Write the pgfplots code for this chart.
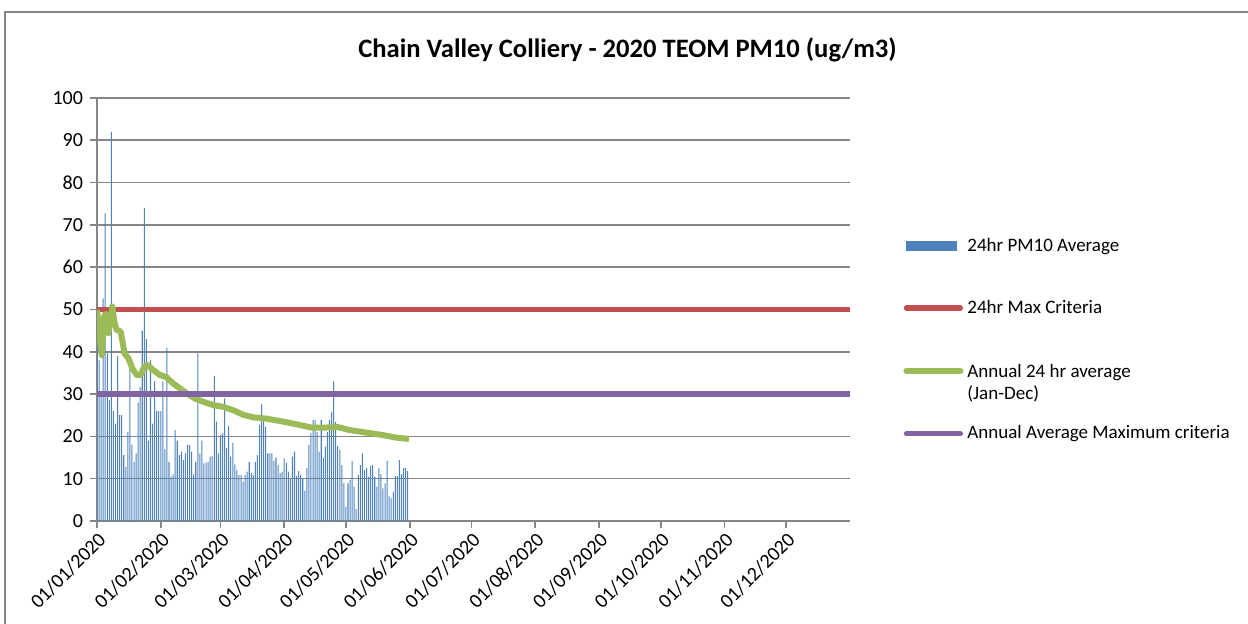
\documentclass[border=0pt]{standalone}
\usepackage{fontspec}
\setmainfont{Carlito}
\usepackage{pgfplots}
\usepackage{pgfplotstable}
\pgfplotsset{compat=1.18}

\definecolor{pmblue}{HTML}{4F81BD}
\definecolor{maxred}{HTML}{C0504D}
\definecolor{avggreen}{HTML}{9BBB59}
\definecolor{annpurple}{HTML}{8064A2}
\definecolor{gridgrey}{HTML}{868686}

\pgfplotsset{
  lineleg/.style={legend image code/.code={\draw[##1, line cap=round] (0pt,0pt) -- (27pt,0pt);}},
  barleg/.style={legend image code/.code={\fill[pmblue] (0pt,-2.6pt) rectangle (25.5pt,2.6pt);}},
}

% daily 24hr PM10 averages, day 0 = 01/01/2020
\pgfplotstableread{
day pm
0 49
1 38
2 30
3 52.6
4 72.7
5 39.6
6 28.6
7 92
8 26
9 23
10 39
11 25
12 25
13 15.6
14 12.8
15 21
16 37
17 18
18 14
19 16
20 28
21 31.7
22 45
23 74
24 43
25 19
26 38
27 23
28 33
29 26
30 26
31 26
32 33
33 17
34 41
35 14
36 10.5
37 11
38 21.5
39 19
40 15.6
41 16.4
42 14.4
43 16
44 18
45 18
46 16.4
47 11
48 14
49 39.6
50 16
51 19
52 13.6
53 13.8
54 14
55 15.2
56 15.4
57 34.3
58 23.5
59 16
60 20.3
61 20.7
62 29
63 17.2
64 22.5
65 15.2
66 18.5
67 13.4
68 12
69 10.9
70 10.9
71 9.3
72 10.9
73 11.7
74 14
75 11.3
76 10.9
77 14
78 15.6
79 22.7
80 27.7
81 23.9
82 22.3
83 16
84 16
85 16
86 14.2
87 15
88 13.2
89 11.3
90 11.7
91 14.8
92 13.8
93 11.7
94 10.1
95 15.2
96 16.4
97 10.6
98 11.8
99 10.9
100 10.1
101 7.2
102 12.5
103 18
104 20.7
105 23.9
106 23.9
107 21
108 16.4
109 23.9
110 15
111 17.6
112 21
113 23.9
114 25.8
115 33
116 23.5
117 17.7
118 16.8
119 13.2
120 8.9
121 3.4
122 8.9
123 9.7
124 14.2
125 8.1
126 2.8
127 10.9
128 13.2
129 16
130 12
131 12.5
132 10.5
133 13
134 13.2
135 10.5
136 8.1
137 12.5
138 11.1
139 7.7
140 8.9
141 14.3
142 5.8
143 5.4
144 6.9
145 10.6
146 10.6
147 14.4
148 11.1
149 12.5
150 12.5
151 11.8
}\pmdata

% running annual average
\pgfplotstableread{
day avg
0 49.9
1 45
2.3 39.2
3.4 48.3
4.4 49
5.5 44.4
6.6 47.5
7.4 50.7
8.6 46.7
9.5 45.2
11.5 44.8
13.4 39.6
15.2 38.5
17.3 36
19.3 34.5
21.2 34.5
22.5 36
24.4 36.9
27.3 35.7
30.6 34.5
33.8 34
37 32.5
40.2 31.4
43.5 30.2
47.5 29
51.6 28.2
56.4 27.4
61.3 27
66.2 26.2
71.1 25.1
75.9 24.5
82.3 24.2
90.4 23.5
98.5 22.7
104.2 22.1
111.5 22.1
117.1 22.2
122.8 21.5
130.9 20.9
139 20.3
145.5 19.7
151.6 19.4
}\avgdata

\begin{document}
\begin{tikzpicture}
\path[use as bounding box] (0pt,0pt) rectangle (624pt,312pt);
\draw[gridgrey, line width=0.8pt] (2.5pt,0pt) -- (2.5pt,306pt) -- (624pt,306pt);
\node[font=\fontsize{13.3}{16}\selectfont\bfseries] at (313.75pt,287pt) {Chain Valley Colliery - 2020 TEOM PM10 (ug/m3)};
\begin{axis}[
    at={(48.5pt,51.5pt)}, anchor=origin,
    scale only axis,
    width=376.5pt, height=211.5pt,
    xmin=0, xmax=366,
    ymin=0, ymax=100,
    ytick={0,10,...,100},
    xtick={0,31,60,91,121,152,182,213,244,274,305,335},
    xticklabels={01/01/2020,01/02/2020,01/03/2020,01/04/2020,01/05/2020,01/06/2020,01/07/2020,01/08/2020,01/09/2020,01/10/2020,01/11/2020,01/12/2020},
    axis lines*=left,
    axis line style={-, draw=gridgrey, line width=0.8pt},
    ymajorgrids=true,
    grid style={draw=gridgrey, line width=0.8pt},
    tick align=outside,
    major tick length=3.5pt,
    tick style={draw=gridgrey, line width=0.8pt},
    tick label style={font=\fontsize{10}{12}\selectfont, text=black},
    /pgf/number format/assume math mode=true,
    xticklabel style={rotate=45, anchor=north east, inner sep=1pt},
    legend cell align=left,
    legend style={draw=none, fill=none, at={(1.0704,0.428)}, anchor=west,
      font=\fontsize{9.5}{11}\selectfont, row sep=18.8pt, inner sep=0pt},
]
\addplot[ybar, bar width=0.5, bar shift=0pt, fill=pmblue, draw=none, barleg] table[x=day, y=pm] {\pmdata};
\addlegendentry{24hr PM10 Average}
\addplot[maxred, line width=2.6pt, lineleg] coordinates {(0,50) (366,50)};
\addlegendentry{24hr Max Criteria}
\addplot[avggreen, line width=3pt, line join=round, lineleg] table[x=day, y=avg] {\avgdata};
\addlegendentry{\raisebox{0pt}[\height][0pt]{\begin{tabular}[t]{@{}l@{}}Annual 24 hr average\\(Jan-Dec)\end{tabular}}}
\addplot[annpurple, line width=2.6pt, lineleg] coordinates {(0,30) (366,30)};
\addlegendentry{Annual Average Maximum criteria}
\end{axis}
\end{tikzpicture}
\end{document}
